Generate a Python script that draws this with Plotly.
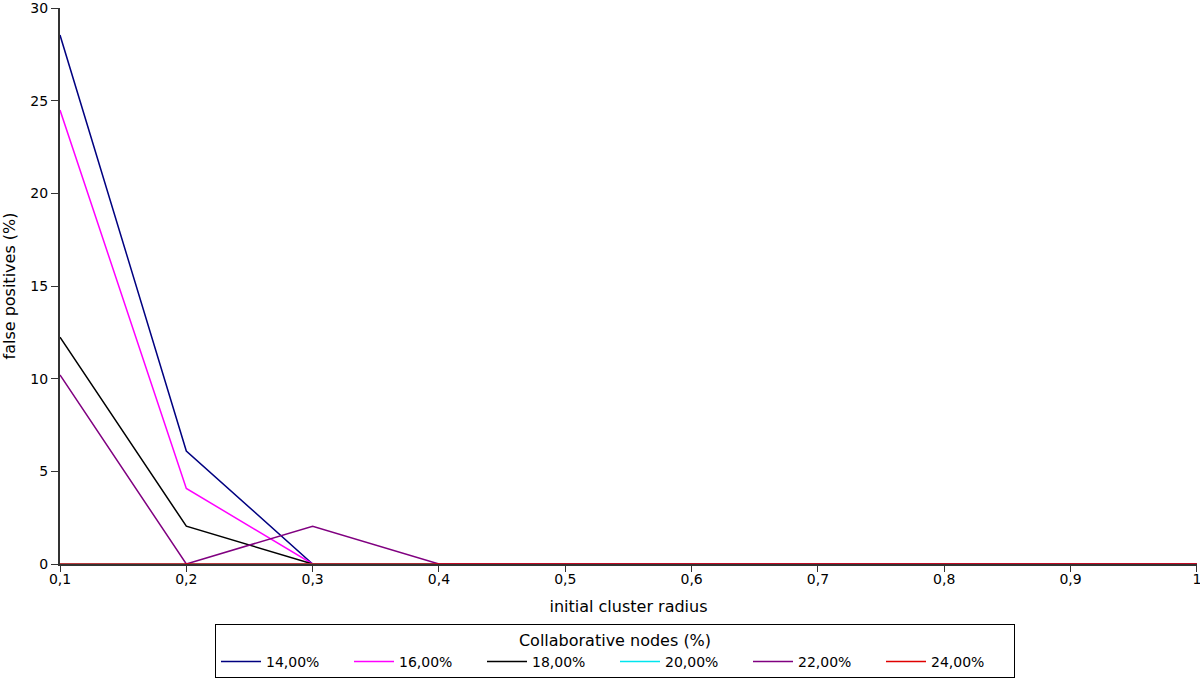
import plotly.graph_objects as go

# initial cluster radius
radius = [0.1, 0.2, 0.3, 0.4, 0.5, 0.6, 0.7, 0.8, 0.9, 1.0]
radius_labels = ["0,1", "0,2", "0,3", "0,4", "0,5", "0,6", "0,7", "0,8", "0,9", "1"]
y_ticks = [0, 5, 10, 15, 20, 25, 30]

# false positives (%) per share of collaborative nodes
fp_14 = [28.55, 6.1, 0, 0, 0, 0, 0, 0, 0, 0]
fp_16 = [24.5, 4.08, 0, 0, 0, 0, 0, 0, 0, 0]
fp_18 = [12.24, 2.04, 0, 0, 0, 0, 0, 0, 0, 0]
fp_20 = [0, 0, 0, 0, 0, 0, 0, 0, 0, 0]
fp_22 = [10.2, 0, 2.04, 0, 0, 0, 0, 0, 0, 0]
fp_24 = [0, 0, 0, 0, 0, 0, 0, 0, 0, 0]

series_names = ["14,00%", "16,00%", "18,00%", "20,00%", "22,00%", "24,00%"]
series_values = [fp_14, fp_16, fp_18, fp_20, fp_22, fp_24]
colors = ["#000080", "#ff00ff", "#000000", "#00e5ee", "#800080", "#e00000"]

fig = go.Figure()

for name, vals, col in zip(series_names, series_values, colors):
    fig.add_trace(go.Scatter(
        x=radius,
        y=vals,
        name=name,
        mode="lines",
        line=dict(color=col, width=1.5),
    ))

fig.update_layout(
    width=1200,
    height=682,
    margin=dict(l=60, r=3, t=8, b=118, autoexpand=False),
    plot_bgcolor="white",
    paper_bgcolor="white",
    separators=",.",
    font=dict(family="DejaVu Sans", size=14, color="black"),
    legend=dict(
        orientation="h",
        title=dict(text="Collaborative nodes (%)", side="top center",
                   font=dict(size=16)),
        font=dict(size=14),
        bordercolor="black",
        borderwidth=1,
        x=0.5125,
        xref="container",
        xanchor="center",
        y=0.085,
        yref="container",
        yanchor="top",
        itemwidth=40,
        entrywidth=78,
    ),
)

fig.update_xaxes(
    title=dict(text="initial cluster radius", font=dict(size=16)),
    range=[0.1, 1.0001],
    tickvals=radius,
    ticktext=radius_labels,
    showgrid=False,
    zeroline=False,
    showline=True,
    linecolor="#333333",
    linewidth=2,
    ticks="outside",
    ticklen=6,
    tickcolor="#333333",
    ticklabeloverflow="allow",
    ticklabelstandoff=-5,
    layer="below traces",
    automargin=False,
)

fig.update_yaxes(
    title=dict(text="false positives (%)", font=dict(size=16)),
    range=[0, 30.01],
    tickvals=y_ticks,
    showgrid=False,
    zeroline=False,
    showline=True,
    linecolor="#333333",
    linewidth=2,
    ticks="outside",
    ticklen=7,
    tickcolor="#333333",
    ticklabeloverflow="allow",
    layer="below traces",
    automargin=False,
)

# drop the page's default body margin so the figure sits at the window corner
fig.write_html("out.html",
               config={"displayModeBar": False},
               post_script="document.body.style.margin='0';")
